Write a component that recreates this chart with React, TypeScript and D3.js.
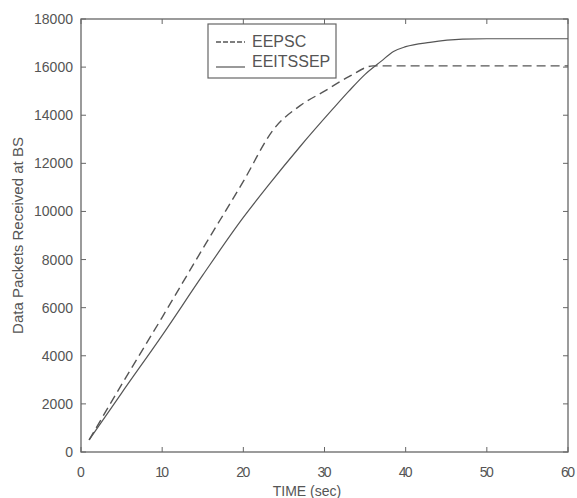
import React, { useRef, useEffect } from 'react';
import * as d3 from 'd3';

const eepscTime = [1, 5, 10, 15, 20, 23.7, 27, 30, 33, 36, 40, 50, 60];
const eepscPackets = [500, 2800, 5600, 8450, 11250, 13400, 14400, 15000, 15600, 16050, 16050, 16050, 16050];

const eeitsTime = [1, 5, 10, 15, 20, 23, 27, 31, 33, 35, 37, 38.5, 40, 43, 47, 50, 60];
const eeitsPackets = [500, 2450, 4850, 7350, 9750, 11050, 12700, 14250, 15000, 15700, 16250, 16650, 16850, 17030, 17160, 17180, 17180];

const xTicks = [0, 10, 20, 30, 40, 50, 60];
const yTicks = [0, 2000, 4000, 6000, 8000, 10000, 12000, 14000, 16000, 18000];

const seriesNames = ['EEPSC', 'EEITSSEP'];

function Chart() {
  const svgRef = useRef<SVGSVGElement>(null);

  useEffect(() => {
    const width = 577;
    const height = 498;
    const left = 81;
    const right = 568;
    const top = 19;
    const bottom = 452;

    const svg = d3.select(svgRef.current);
    svg.selectAll('*').remove();
    svg.attr('width', width).attr('height', height)
      .style('font-family', 'Liberation Sans, Arial, sans-serif');

    const x = d3.scaleLinear().domain([0, 60]).range([left, right]);
    const y = d3.scaleLinear().domain([0, 18000]).range([bottom, top]);

    const axisColor = '#666';
    const textColor = '#555';

    // plot frame
    svg.append('rect')
      .attr('x', left).attr('y', top)
      .attr('width', right - left).attr('height', bottom - top)
      .attr('fill', 'none').attr('stroke', axisColor).attr('stroke-width', 1.3);

    // inner ticks on all sides
    const tk = 5;
    const g = svg.append('g').attr('stroke', axisColor).attr('stroke-width', 1);
    xTicks.forEach(t => {
      g.append('line').attr('x1', x(t)).attr('x2', x(t)).attr('y1', bottom).attr('y2', bottom - tk);
      g.append('line').attr('x1', x(t)).attr('x2', x(t)).attr('y1', top).attr('y2', top + tk);
    });
    yTicks.forEach(t => {
      g.append('line').attr('y1', y(t)).attr('y2', y(t)).attr('x1', left).attr('x2', left + tk);
      g.append('line').attr('y1', y(t)).attr('y2', y(t)).attr('x1', right).attr('x2', right - tk);
    });

    svg.append('g')
      .selectAll('text')
      .data(xTicks)
      .join('text')
      .attr('x', d => x(d))
      .attr('y', 477)
      .attr('text-anchor', 'middle')
      .attr('font-size', 14)
      .attr('fill', textColor)
      .attr('textLength', d => String(d).length * 7)
      .text(d => d);

    svg.append('g')
      .selectAll('text')
      .data(yTicks)
      .join('text')
      .attr('x', 73)
      .attr('y', d => y(d) + 5)
      .attr('text-anchor', 'end')
      .attr('font-size', 14)
      .attr('fill', textColor)
      .attr('textLength', d => String(d).length * 7.8)
      .text(d => d);

    svg.append('text')
      .attr('x', 307).attr('y', 496)
      .attr('text-anchor', 'middle')
      .attr('font-size', 14)
      .attr('fill', textColor)
      .text('TIME (sec)');

    svg.append('text')
      .attr('transform', `translate(23,${(top + bottom) / 2}) rotate(-90)`)
      .attr('text-anchor', 'middle')
      .attr('font-size', 15)
      .attr('fill', textColor)
      .text('Data Packets Received at BS');

    const line = d3.line<[number, number]>()
      .x(d => x(d[0]))
      .y(d => y(d[1]))
      .curve(d3.curveMonotoneX);

    svg.append('path')
      .datum(eepscTime.map((t, i) => [t, eepscPackets[i]] as [number, number]))
      .attr('d', line)
      .attr('fill', 'none')
      .attr('stroke', '#555')
      .attr('stroke-width', 1.4)
      .attr('stroke-dasharray', '9,5');

    svg.append('path')
      .datum(eeitsTime.map((t, i) => [t, eeitsPackets[i]] as [number, number]))
      .attr('d', line)
      .attr('fill', 'none')
      .attr('stroke', '#555')
      .attr('stroke-width', 1.2);

    // legend
    const legend = svg.append('g');
    legend.append('rect')
      .attr('x', 208).attr('y', 24).attr('width', 128).attr('height', 54)
      .attr('fill', 'white').attr('stroke', axisColor).attr('stroke-width', 1.2);
    legend.append('line')
      .attr('x1', 216).attr('x2', 245).attr('y1', 42).attr('y2', 42)
      .attr('stroke', '#555').attr('stroke-width', 1.3).attr('stroke-dasharray', '5,2');
    legend.append('line')
      .attr('x1', 216).attr('x2', 245).attr('y1', 67).attr('y2', 67)
      .attr('stroke', '#555').attr('stroke-width', 1.2);
    seriesNames.forEach((n, i) => {
      legend.append('text')
        .attr('x', 252).attr('y', 47 + i * 20)
        .attr('font-size', 16)
        .attr('fill', textColor)
        .text(n);
    });
  }, []);

  return <svg ref={svgRef} style={{ display: 'block' }}></svg>;
}

export default function App() {
  return (
    <div style={{ position: 'absolute', left: 0, top: 0 }}>
      <Chart />
    </div>
  );
}
